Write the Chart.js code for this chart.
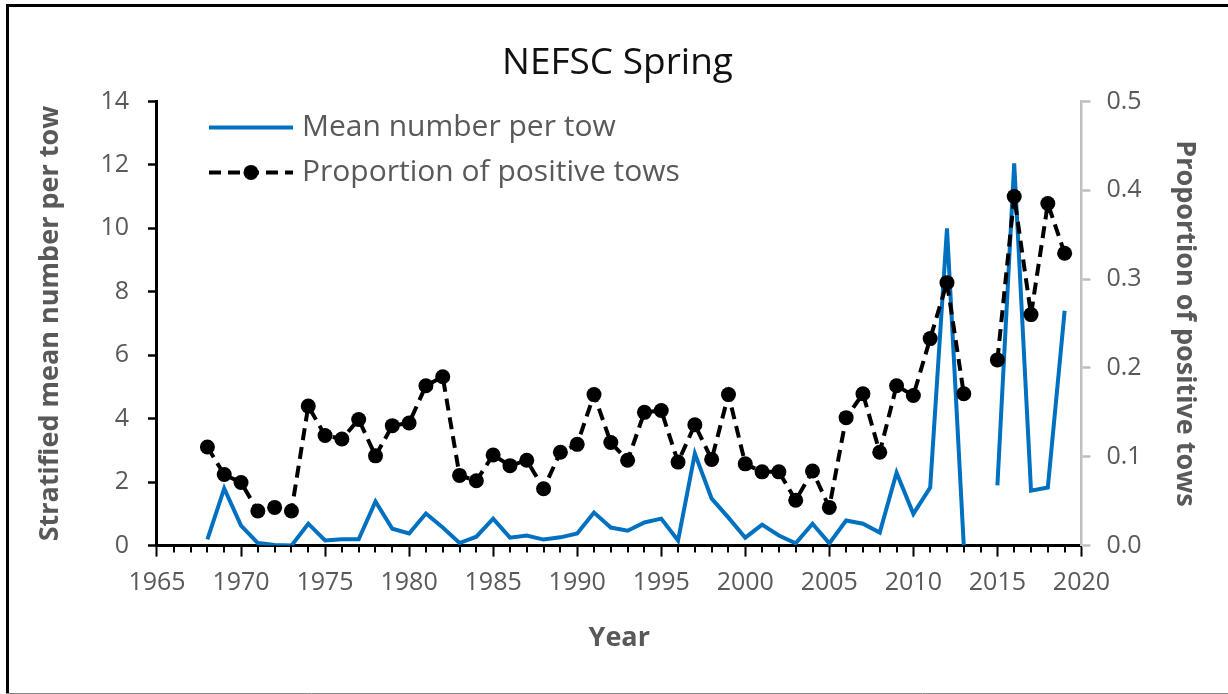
<!DOCTYPE html>
<html>
<head>
<meta charset="utf-8">
<script src="https://cdn.jsdelivr.net/npm/chart.js@4"></script>
<style>
  html, body { margin: 0; padding: 0; background: #fff; }
  #wrap { width: 1228px; height: 694px; }
</style>
</head>
<body>
<div id="wrap"><canvas id="springChart" width="1228" height="694"></canvas></div>
<script>
// years surveyed (2014 missing)
const years = [1968, 1969, 1970, 1971, 1972, 1973, 1974, 1975, 1976, 1977,
  1978, 1979, 1980, 1981, 1982, 1983, 1984, 1985, 1986, 1987,
  1988, 1989, 1990, 1991, 1992, 1993, 1994, 1995, 1996, 1997,
  1998, 1999, 2000, 2001, 2002, 2003, 2004, 2005, 2006, 2007,
  2008, 2009, 2010, 2011, 2012, 2013, 2014, 2015, 2016, 2017,
  2018, 2019];

// stratified mean number per tow (left axis)
const meanPerTow = [0.2, 1.8, 0.63, 0.08, 0.02, 0.0, 0.69, 0.16, 0.2, 0.2,
  1.39, 0.53, 0.38, 1.01, 0.57, 0.08, 0.28, 0.85, 0.25, 0.32,
  0.19, 0.26, 0.38, 1.04, 0.57, 0.47, 0.73, 0.85, 0.16, 2.9,
  1.48, 0.88, 0.25, 0.66, 0.32, 0.07, 0.69, 0.07, 0.79, 0.69,
  0.41, 2.3, 1.0, 1.83, 10.0, 0.0, null, 1.9, 12.05, 1.73,
  1.83, 7.4];

// proportion of positive tows (right axis)
const propPositive = [0.111, 0.080, 0.071, 0.039, 0.043, 0.039, 0.157, 0.124, 0.120, 0.142,
  0.101, 0.135, 0.138, 0.180, 0.190, 0.079, 0.073, 0.102, 0.090, 0.096,
  0.064, 0.105, 0.114, 0.170, 0.116, 0.096, 0.150, 0.152, 0.094, 0.136,
  0.097, 0.170, 0.092, 0.083, 0.083, 0.051, 0.084, 0.043, 0.144, 0.171,
  0.105, 0.180, 0.169, 0.233, 0.296, 0.171, null, 0.209, 0.393, 0.260,
  0.385, 0.329];

const seriesNames = ["Mean number per tow", "Proportion of positive tows"];

const grey = "#595959";
const blue = "#0070C0";
const dash = [12, 7];

// frame around the figure
const framePlugin = {
    id: "frame",
    beforeDraw(chart) {
        const c = chart.ctx;
        c.save();
        c.fillStyle = "#fff";
        c.fillRect(0, 0, chart.width, chart.height);
        c.strokeStyle = "#000";
        c.lineWidth = 3;
        c.beginPath();
        c.moveTo(7.5, 694);
        c.lineTo(7.5, 5.5);
        c.lineTo(1228, 5.5);
        c.stroke();
        c.strokeStyle = "#888";
        c.lineWidth = 1;
        c.beginPath();
        c.moveTo(6, 693.5);
        c.lineTo(1228, 693.5);
        c.stroke();
        c.restore();
    }
};

// minor ticks on the year axis
const minorTicks = {
    id: "minorTicks",
    afterDraw(chart) {
        const x = chart.scales.x;
        const c = chart.ctx;
        const y0 = x.top;
        c.save();
        c.strokeStyle = "#000";
        c.lineWidth = 2;
        for (let yr = 1965; yr <= 2020; yr++) {
            if (yr % 5 === 0) continue;
            const px = Math.round(x.getPixelForValue(yr));
            c.beginPath();
            c.moveTo(px, y0);
            c.lineTo(px, y0 + 7);
            c.stroke();
        }
        c.restore();
    }
};

// legend inside the plot
const innerLegend = {
    id: "innerLegend",
    afterDraw(chart) {
        const a = chart.chartArea;
        const c = chart.ctx;
        const x0 = a.left + 52, x1 = a.left + 136;
        const rows = [a.top + 26, a.top + 71];
        c.save();
        c.lineWidth = 4;
        c.strokeStyle = blue;
        c.beginPath();
        c.moveTo(x0, rows[0]);
        c.lineTo(x1, rows[0]);
        c.stroke();
        c.strokeStyle = "#000";
        c.setLineDash(dash);
        c.beginPath();
        c.moveTo(x0, rows[1]);
        c.lineTo(x1, rows[1]);
        c.stroke();
        c.setLineDash([]);
        c.fillStyle = "#000";
        c.beginPath();
        c.arc((x0 + x1) / 2, rows[1], 7.5, 0, Math.PI * 2);
        c.fill();
        c.fillStyle = grey;
        c.font = "30px 'Open Sans'";
        c.textBaseline = "middle";
        c.fillText(seriesNames[0], x1 + 9, rows[0]);
        c.fillText(seriesNames[1], x1 + 9, rows[1]);
        c.restore();
    }
};

new Chart(document.getElementById("springChart"), {
    type: "line",
    data: {
        datasets: [
            {
                label: seriesNames[1],
                data: years.map((yr, i) => ({ x: yr, y: propPositive[i] })),
                yAxisID: "y2",
                borderColor: "#000",
                backgroundColor: "#000",
                borderWidth: 4,
                borderDash: dash,
                pointRadius: 7.5,
                pointHoverRadius: 7.5,
                pointBorderWidth: 0,
                spanGaps: false,
                tension: 0,
                order: 0
            },
            {
                label: seriesNames[0],
                data: years.map((yr, i) => ({ x: yr, y: meanPerTow[i] })),
                yAxisID: "y",
                borderColor: blue,
                backgroundColor: blue,
                borderWidth: 4,
                pointRadius: 0,
                spanGaps: false,
                tension: 0,
                order: 1
            }
        ]
    },
    options: {
        responsive: false,
        animation: false,
        layout: { padding: { left: 34, right: 27, top: 10, bottom: 39 } },
        plugins: {
            legend: { display: false },
            tooltip: { enabled: false },
            title: {
                display: true,
                text: "NEFSC Spring",
                color: "#111",
                font: { family: "'Open Sans'", size: 37, weight: "normal" },
                padding: { top: 31, bottom: 16 }
            }
        },
        scales: {
            x: {
                type: "linear",
                min: 1965,
                max: 2020,
                ticks: {
                    stepSize: 5,
                    color: grey,
                    font: { family: "'Open Sans'", size: 25 },
                    maxRotation: 0,
                    padding: 11,
                    callback: v => String(v)
                },
                grid: { drawOnChartArea: false, tickLength: 11, tickColor: "#000", tickWidth: 2 },
                border: { color: "#000", width: 3 },
                title: {
                    display: true,
                    text: "Year",
                    color: grey,
                    font: { family: "'Open Sans'", size: 27, weight: "bold" },
                    padding: { top: 14, bottom: 0 }
                }
            },
            y: {
                position: "left",
                min: 0,
                max: 14,
                ticks: {
                    stepSize: 2,
                    color: grey,
                    font: { family: "'Open Sans'", size: 25 },
                    padding: 19
                },
                grid: { drawOnChartArea: false, tickLength: 9, tickColor: "#000", tickWidth: 2.5 },
                border: { color: "#000", width: 3 },
                title: {
                    display: true,
                    text: "Stratified mean number per tow",
                    color: grey,
                    font: { family: "'Open Sans'", size: 27, weight: "bold" },
                    padding: { top: 0, bottom: 15 }
                }
            },
            y2: {
                position: "right",
                min: 0,
                max: 0.5,
                ticks: {
                    stepSize: 0.1,
                    color: grey,
                    font: { family: "'Open Sans'", size: 25 },
                    padding: 16,
                    callback: v => v.toFixed(1)
                },
                grid: { drawOnChartArea: false, tickLength: 9, tickColor: "#bfbfbf", tickWidth: 2.5 },
                border: { color: "#bfbfbf", width: 2.5 },
                title: {
                    display: true,
                    text: "Proportion of positive tows",
                    color: grey,
                    font: { family: "'Open Sans'", size: 27, weight: "bold" },
                    padding: { top: 0, bottom: 11 }
                }
            }
        }
    },
    plugins: [framePlugin, minorTicks, innerLegend]
});
</script>
</body>
</html>
